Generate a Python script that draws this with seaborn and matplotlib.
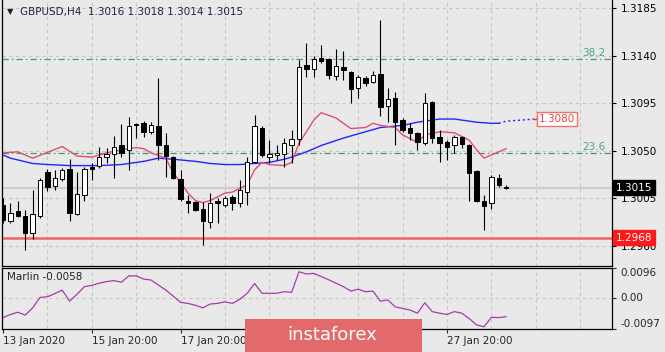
import numpy as np
import pandas as pd
import matplotlib
matplotlib.use("Agg")
import matplotlib.pyplot as plt
from matplotlib.patches import Rectangle
import seaborn as sns

# GBPUSD H4, first bar 13 Jan 2020 20:00
opens = [1.2999, 1.2984, 1.2993, 1.2988, 1.2972, 1.2988, 1.3030, 1.3017, 1.3023, 1.3033,
         1.2990, 1.3008, 1.3035, 1.3036, 1.3044, 1.3047, 1.3055, 1.3051, 1.3075, 1.3076,
         1.3068, 1.3073, 1.3055, 1.3044, 1.3023, 1.3003, 1.3002, 1.2995, 1.2983, 1.3003,
         1.2999, 1.3006, 1.3001, 1.3011, 1.3039, 1.3072, 1.3044, 1.3046, 1.3047, 1.3055,
         1.3061, 1.3131, 1.3127, 1.3138, 1.3137, 1.3121, 1.3129, 1.3124, 1.3109, 1.3119,
         1.3115, 1.3123, 1.3092, 1.3100, 1.3079, 1.3072, 1.3067, 1.3057, 1.3096, 1.3063,
         1.3058, 1.3055, 1.3063, 1.3055, 1.3031, 1.3003, 1.3001, 1.3024, 1.3016]
highs = [1.3005, 1.3001, 1.3003, 1.2994, 1.3013, 1.3024, 1.3033, 1.3032, 1.3034, 1.3042,
         1.3030, 1.3035, 1.3038, 1.3054, 1.3053, 1.3064, 1.3075, 1.3082, 1.3076, 1.3078,
         1.3077, 1.3119, 1.3067, 1.3045, 1.3032, 1.3008, 1.3003, 1.3002, 1.3010, 1.3005,
         1.3007, 1.3008, 1.3022, 1.3044, 1.3084, 1.3073, 1.3060, 1.3055, 1.3062, 1.3070,
         1.3136, 1.3152, 1.3140, 1.3150, 1.3138, 1.3146, 1.3144, 1.3125, 1.3122, 1.3121,
         1.3125, 1.3174, 1.3109, 1.3106, 1.3081, 1.3076, 1.3068, 1.3105, 1.3097, 1.3070,
         1.3060, 1.3065, 1.3064, 1.3056, 1.3032, 1.3008, 1.3027, 1.3028, 1.3018]
lows = [1.2982, 1.2982, 1.2987, 1.2956, 1.2967, 1.2986, 1.3012, 1.3013, 1.3021, 1.2984,
        1.2989, 1.3003, 1.3022, 1.3034, 1.3038, 1.3024, 1.3044, 1.3032, 1.3062, 1.3063,
        1.3066, 1.3041, 1.3025, 1.3023, 1.3003, 1.2991, 1.2993, 1.2961, 1.2977, 1.2982,
        1.2997, 1.2994, 1.2997, 1.2999, 1.3038, 1.3044, 1.3038, 1.3041, 1.3035, 1.3038,
        1.3055, 1.3120, 1.3120, 1.3133, 1.3118, 1.3117, 1.3117, 1.3095, 1.3100, 1.3111,
        1.3114, 1.3083, 1.3077, 1.3055, 1.3068, 1.3060, 1.3051, 1.3055, 1.3057, 1.3039,
        1.3041, 1.3048, 1.3053, 1.3003, 1.3002, 1.2975, 1.2995, 1.3016, 1.3014]
closes = [1.2985, 1.2991, 1.2988, 1.2972, 1.2990, 1.3022, 1.3016, 1.3024, 1.3032, 1.2991,
          1.3009, 1.3033, 1.3033, 1.3044, 1.3047, 1.3054, 1.3048, 1.3073, 1.3074, 1.3068,
          1.3074, 1.3055, 1.3045, 1.3024, 1.3004, 1.3001, 1.2994, 1.2984, 1.3001, 1.3001,
          1.3005, 1.3001, 1.3013, 1.3039, 1.3073, 1.3046, 1.3047, 1.3048, 1.3057, 1.3061,
          1.3129, 1.3127, 1.3137, 1.3135, 1.3122, 1.3130, 1.3126, 1.3108, 1.3120, 1.3114,
          1.3122, 1.3091, 1.3099, 1.3077, 1.3070, 1.3067, 1.3058, 1.3095, 1.3062, 1.3057,
          1.3054, 1.3063, 1.3056, 1.3029, 1.3003, 1.2998, 1.3025, 1.3018, 1.3015]

# fast MA (red) and slow MA (blue), read at selected bars
red_bar = [0, 2, 4, 8, 10, 12, 14, 16, 18, 19, 20, 22, 23, 24, 25, 26, 27, 28, 30, 31, 33, 34,
           35, 36, 38, 39, 40, 42, 43, 45, 46, 47, 49, 50, 51, 53, 54, 56, 57, 59, 61, 63,
           64, 65, 66, 68]
red_ma = [1.3048, 1.3049, 1.3043, 1.3054, 1.3045, 1.3044, 1.3048, 1.3051, 1.3053, 1.3052,
          1.3048, 1.3043, 1.3029, 1.3020, 1.3010, 1.3003, 1.3001, 1.3003, 1.3010, 1.3011,
          1.3018, 1.3032, 1.3039, 1.3037, 1.3036, 1.3039, 1.3057, 1.3079, 1.3086, 1.3081,
          1.3076, 1.3071, 1.3072, 1.3076, 1.3074, 1.3072, 1.3065, 1.3058, 1.3065, 1.3068,
          1.3067, 1.3060, 1.3051, 1.3043, 1.3046, 1.3052]
blue_bar = [0, 1, 4, 6, 9, 13, 16, 19, 21, 23, 26, 28, 30, 32, 34, 36, 38, 39, 41, 43, 46,
            48, 50, 51, 54, 56, 59, 61, 64, 66, 67]
blue_ma = [1.3046, 1.3043, 1.3038, 1.3037, 1.3036, 1.3036, 1.3037, 1.3040, 1.3043, 1.3042,
           1.3040, 1.3038, 1.3037, 1.3037, 1.3038, 1.3039, 1.3042, 1.3044, 1.3049, 1.3055,
           1.3062, 1.3066, 1.3070, 1.3072, 1.3074, 1.3077, 1.3080, 1.3080, 1.3077, 1.3076,
           1.3076]
blue_fwd_bar = [67, 68, 72]
blue_fwd = [1.3076, 1.3078, 1.3080]

marlin = [-0.0061, -0.0051, -0.0044, -0.0053, -0.0030, 0.0003, 0.0005, 0.0015, 0.0026, -0.0009,
          0.0013, 0.0037, 0.0041, 0.0048, 0.0053, 0.0056, 0.0051, 0.0071, 0.0071, 0.0061,
          0.0058, 0.0042, 0.0026, 0.0007, -0.0013, -0.0016, -0.0022, -0.0030, -0.0018, -0.0016,
          -0.0011, -0.0016, -0.0003, 0.0016, 0.0047, 0.0016, 0.0016, 0.0016, 0.0021, 0.0019,
          0.0084, 0.0077, 0.0079, 0.0069, 0.0059, 0.0048, 0.0037, 0.0023, 0.0029, 0.0021,
          0.0023, -0.0009, -0.0005, -0.0027, -0.0032, -0.0037, -0.0047, -0.0014, -0.0042, -0.0047,
          -0.0051, -0.0042, -0.0047, -0.0064, -0.0084, -0.0090, -0.0060, -0.0061, -0.0058]

fib_levels = [1.3048, 1.3137]
fib_names = ["23.6", "38.2"]
support = 1.2968
last_price = 1.3015
ma_label = 1.3080

price_ticks = [1.2960, 1.3005, 1.3050, 1.3095, 1.3140, 1.3185]
marlin_ticks = [-0.0097, 0.0, 0.0096]
marlin_tick_labels = ["-0.0097", "0.00", "0.0096"]
date_bars = [0, 12, 24, 36, 48, 60]
# labels at 36 and 48 sit under the watermark in the reference
date_labels = ["13 Jan 2020", "15 Jan 20:00", "17 Jan 20:00", "", "", "27 Jan 20:00"]

sns.set_style("ticks")
plt.rcParams["font.family"] = ["DejaVu Sans"]
bg = "#e9e9e9"
gridkw = dict(color="#c6c6c6", lw=0.8, ls=(0, (3, 3)))

df = pd.DataFrame({"bar": np.arange(len(opens)), "open": opens, "high": highs,
                   "low": lows, "close": closes, "marlin": marlin})

fig = plt.figure(figsize=(6.65, 3.52), dpi=100, facecolor=bg)
ax = fig.add_axes([2 / 665, 86 / 352, 610 / 665, 268 / 352], facecolor=bg)
ax2 = fig.add_axes([2 / 665, 23 / 352, 610 / 665, 61 / 352], facecolor=bg)

xlim = (-0.14, 82.3)

# grids
for b in range(6, 83, 6):
    ax.axvline(b, **gridkw, zorder=0)
    ax2.axvline(b, **gridkw, zorder=0)
for p in price_ticks:
    ax.axhline(p, **gridkw, zorder=0)
ax2.axhline(0, **gridkw, zorder=0)

# reference lines
ax.axhline(last_price, color="#cdcdcd", lw=1.6, zorder=0.5)
ax.axhline(support, color="#f06464", lw=1.8, zorder=1)
for lv, nm in zip(fib_levels, fib_names):
    ax.axhline(lv, color="#3f9a6c", lw=0.9, ls=(0, (5, 2.5, 1.2, 2.5)), zorder=1)
    ax.text(81.4, lv + 0.00008, nm, color="#4fa57a", fontsize=7.5, ha="right", va="bottom")

# moving averages
sns.lineplot(x=blue_bar, y=blue_ma, ax=ax, color="#2424ff", lw=1.0, zorder=2)
sns.lineplot(x=blue_fwd_bar, y=blue_fwd, ax=ax, color="#2424ff", lw=1.0,
             linestyle=(0, (1.5, 2)), zorder=2)
sns.lineplot(x=red_bar, y=red_ma, ax=ax, color="#e0506c", lw=1.0, zorder=2)

# candles
up = df["close"] >= df["open"]
body_lo = np.minimum(df["open"], df["close"])
body_h = np.maximum(np.abs(df["close"] - df["open"]), 0.00004)
ax.vlines(df["bar"], df["low"], df["high"], color="black", lw=0.8, zorder=3)
ax.bar(df["bar"], body_h, bottom=body_lo, width=0.6,
       color=np.where(up, "white", "black"), edgecolor="black", lw=0.7, zorder=4)

ax.set_xlim(*xlim)
ax.set_ylim(1.29411, 1.31944)
ax.yaxis.tick_right()
ax.set_yticks(price_ticks)
ax.set_yticklabels([f"{p:.4f}" for p in price_ticks])
ax.set_xticks([])
ax.tick_params(axis="y", length=3, pad=3, labelsize=7.5, colors="black")
ax.set_xlabel("")
ax.set_ylabel("")
for s in ax.spines.values():
    s.set_color("black")
    s.set_linewidth(0.9)

# price labels on the right axis
ytr = ax.get_yaxis_transform()
ax.text(1.006, last_price, "1.3015", transform=ytr, color="white", fontsize=7.5,
        va="center", ha="left", clip_on=False, zorder=6,
        bbox=dict(boxstyle="square,pad=0.25", fc="black", ec="black"))
ax.text(1.006, support, "1.2968", transform=ytr, color="white", fontsize=7.5,
        va="center", ha="left", clip_on=False, zorder=6,
        bbox=dict(boxstyle="square,pad=0.25", fc="#ff1a1a", ec="#ff1a1a"))
ax.plot([71.6, 72.4], [ma_label, ma_label], color="#f04040", lw=1, zorder=5)
ax.text(72.4, ma_label, "1.3080", color="#f04040", fontsize=7.5, va="center", ha="left",
        zorder=6, bbox=dict(boxstyle="square,pad=0.2", fc="white", ec="#f07070", lw=1))

# Marlin oscillator
sns.lineplot(data=df, x="bar", y="marlin", ax=ax2, color="#a83aa8", lw=0.9)
ax2.set_xlim(*xlim)
ax2.set_ylim(-0.0097, 0.0096)
ax2.yaxis.tick_right()
ax2.set_yticks(marlin_ticks)
ax2.set_yticklabels(marlin_tick_labels)
for t, va in zip(ax2.get_yticklabels(), ["bottom", "center", "top"]):
    t.set_va(va)
ax2.set_xticks(date_bars)
ax2.set_xticklabels(date_labels, ha="left")
ax2.tick_params(axis="y", length=3, pad=3, labelsize=7.5)
ax2.tick_params(axis="x", length=3, pad=2, labelsize=7.5)
ax2.set_xlabel("")
ax2.set_ylabel("")
for s in ax2.spines.values():
    s.set_color("black")
    s.set_linewidth(0.9)
ax2.text(0.008, 0.86, "Marlin -0.0058", transform=ax2.transAxes, fontsize=7.5,
         va="center", ha="left", color="#222222")

# header
fig.text(7 / 665, 1 - 12 / 352, "\u25bc", fontsize=6, va="center", ha="left", color="#222222")
fig.text(20 / 665, 1 - 12 / 352, "GBPUSD,H4  1.3016 1.3018 1.3014 1.3015", fontsize=7.5,
         va="center", ha="left", color="#222244")

# watermark
fig.patches.append(Rectangle((245 / 665, 0), 177 / 665, 33 / 352, transform=fig.transFigure,
                             fc="#e36a6a", ec="none", zorder=10))
fig.text(332 / 665, 1 - 335 / 352, "instaforex", fontsize=13, color="white",
         ha="center", va="center", zorder=11)

fig.savefig("out.png", dpi=100, facecolor=bg)
